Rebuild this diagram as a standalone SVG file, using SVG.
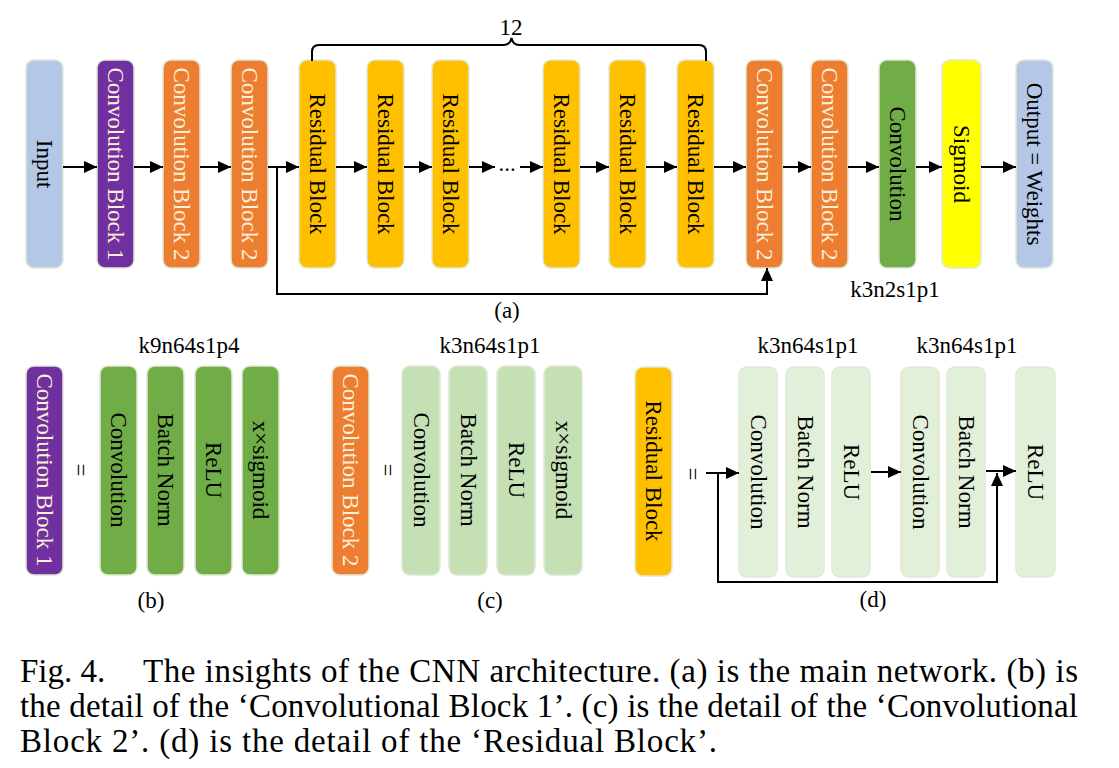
<svg xmlns="http://www.w3.org/2000/svg" width="1119" height="768" viewBox="0 0 1119 768">
<style>
.box{stroke:#dfe9d6;stroke-width:1.5}
.lbl{font-family:"Liberation Serif","Times New Roman",serif;font-size:23px;text-anchor:middle;dominant-baseline:central}
.t{font-family:"Liberation Serif","Times New Roman",serif;font-size:23px;text-anchor:middle;fill:#000}
.cap{font-family:"Liberation Serif","Times New Roman",serif;font-size:33px;fill:#000}
.w{fill:#fdf0d8}
.k{fill:#000}
.blue{fill:#b4c7e7}.purple{fill:#7030a0}.orange{fill:#ed7d31}.gold{fill:#ffc000}
.green{fill:#70ad47}.yellow{fill:#ffff00}.lg{fill:#c5e0b4}.llg{fill:#e2f0d9}
.conn{fill:none;stroke:#000;stroke-width:2}
</style>
<defs>
<marker id="ah" markerUnits="userSpaceOnUse" markerWidth="13" markerHeight="12" refX="13" refY="6" orient="auto">
<path d="M0,0 L13,6 L0,12 z" fill="#000"/>
</marker>
</defs>
<rect width="1119" height="768" fill="#fff"/>

<!-- (a) top row -->
<g id="a-input"><rect class="box blue" x="26" y="60" width="37" height="208" rx="8"/><text class="lbl k" transform="translate(44.5,164) rotate(90)">Input</text></g>
<g id="a-cb1"><rect class="box purple" x="97" y="60" width="37" height="208" rx="8"/><text class="lbl w" transform="translate(115.5,164) rotate(90)">Convolution Block 1</text></g>
<g id="a-cb2a"><rect class="box orange" x="163" y="60" width="37" height="208" rx="8"/><text class="lbl w" transform="translate(181.5,164) rotate(90)">Convolution Block 2</text></g>
<g id="a-cb2b"><rect class="box orange" x="231" y="60" width="37" height="208" rx="8"/><text class="lbl w" transform="translate(249.5,164) rotate(90)">Convolution Block 2</text></g>
<g id="a-r1"><rect class="box gold" x="299" y="60" width="37" height="208" rx="8"/><text class="lbl k" transform="translate(317.5,164) rotate(90)">Residual Block</text></g>
<g id="a-r2"><rect class="box gold" x="367" y="60" width="37" height="208" rx="8"/><text class="lbl k" transform="translate(385.5,164) rotate(90)">Residual Block</text></g>
<g id="a-r3"><rect class="box gold" x="432" y="60" width="37" height="208" rx="8"/><text class="lbl k" transform="translate(450.5,164) rotate(90)">Residual Block</text></g>
<g id="a-r4"><rect class="box gold" x="543" y="60" width="37" height="208" rx="8"/><text class="lbl k" transform="translate(561.5,164) rotate(90)">Residual Block</text></g>
<g id="a-r5"><rect class="box gold" x="609" y="60" width="37" height="208" rx="8"/><text class="lbl k" transform="translate(627.5,164) rotate(90)">Residual Block</text></g>
<g id="a-r6"><rect class="box gold" x="677" y="60" width="37" height="208" rx="8"/><text class="lbl k" transform="translate(695.5,164) rotate(90)">Residual Block</text></g>
<g id="a-cb2c"><rect class="box orange" x="746" y="60" width="37" height="208" rx="8"/><text class="lbl w" transform="translate(764.5,164) rotate(90)">Convolution Block 2</text></g>
<g id="a-cb2d"><rect class="box orange" x="811" y="60" width="37" height="208" rx="8"/><text class="lbl w" transform="translate(829.5,164) rotate(90)">Convolution Block 2</text></g>
<g id="a-conv"><rect class="box green" x="879" y="60" width="37" height="208" rx="8"/><text class="lbl k" transform="translate(897.5,164) rotate(90)">Convolution</text></g>
<g id="a-sig"><rect class="box yellow" x="942" y="60" width="39" height="208" rx="8"/><text class="lbl k" transform="translate(961.5,164) rotate(90)">Sigmoid</text></g>
<g id="a-out"><rect class="box blue" x="1016" y="60" width="37" height="208" rx="8"/><text class="lbl k" transform="translate(1034.5,164) rotate(90)">Output = Weights</text></g>

<g id="a-labels">
<text class="t" x="511" y="35">12</text>
<text class="t" x="507" y="318">(a)</text>
<text class="t" x="895" y="297">k3n2s1p1</text>
<text class="t" x="507" y="171">...</text>
</g>

<!-- (b) -->
<g id="b-cb1"><rect class="box purple" x="26" y="366" width="37" height="209" rx="8"/><text class="lbl w" transform="translate(44.5,470) rotate(90)">Convolution Block 1</text></g>
<g id="b-eq"><text class="lbl k" transform="translate(80,470) rotate(90)">=</text></g>
<g id="b-conv"><rect class="box green" x="100" y="366" width="37" height="209" rx="8"/><text class="lbl k" transform="translate(118.5,470) rotate(90)">Convolution</text></g>
<g id="b-bn"><rect class="box green" x="147" y="366" width="37" height="209" rx="8"/><text class="lbl k" transform="translate(165.5,470) rotate(90)">Batch Norm</text></g>
<g id="b-relu"><rect class="box green" x="195" y="366" width="37" height="209" rx="8"/><text class="lbl k" transform="translate(213.5,470) rotate(90)">ReLU</text></g>
<g id="b-xs"><rect class="box green" x="242" y="366" width="37" height="209" rx="8"/><text class="lbl k" transform="translate(260.5,470) rotate(90)">x×sigmoid</text></g>
<g id="b-labels"><text class="t" x="189" y="353">k9n64s1p4</text><text class="t" x="151" y="608">(b)</text></g>

<!-- (c) -->
<g id="c-cb2"><rect class="box orange" x="332" y="366" width="37" height="209" rx="8"/><text class="lbl w" transform="translate(350.5,470) rotate(90)">Convolution Block 2</text></g>
<g id="c-eq"><text class="lbl k" transform="translate(387,470) rotate(90)">=</text></g>
<g id="c-conv"><rect class="box lg" x="402" y="366" width="38" height="209" rx="8"/><text class="lbl k" transform="translate(421,470) rotate(90)">Convolution</text></g>
<g id="c-bn"><rect class="box lg" x="449" y="366" width="38" height="209" rx="8"/><text class="lbl k" transform="translate(468,470) rotate(90)">Batch Norm</text></g>
<g id="c-relu"><rect class="box lg" x="497" y="366" width="38" height="209" rx="8"/><text class="lbl k" transform="translate(516,470) rotate(90)">ReLU</text></g>
<g id="c-xs"><rect class="box lg" x="544" y="366" width="38" height="209" rx="8"/><text class="lbl k" transform="translate(563,470) rotate(90)">x×sigmoid</text></g>
<g id="c-labels"><text class="t" x="490" y="353">k3n64s1p1</text><text class="t" x="490" y="608">(c)</text></g>

<!-- (d) -->
<g id="d-res"><rect class="box gold" x="635" y="367" width="37" height="209" rx="8"/><text class="lbl k" transform="translate(653.5,471) rotate(90)">Residual Block</text></g>
<g id="d-eq"><text class="lbl k" transform="translate(692,474) rotate(90)">=</text></g>
<g id="d-conv1"><rect class="box llg" x="739" y="367" width="38" height="210" rx="8"/><text class="lbl k" transform="translate(758,472) rotate(90)">Convolution</text></g>
<g id="d-bn1"><rect class="box llg" x="786" y="367" width="38" height="210" rx="8"/><text class="lbl k" transform="translate(805,472) rotate(90)">Batch Norm</text></g>
<g id="d-relu1"><rect class="box llg" x="832" y="367" width="38" height="210" rx="8"/><text class="lbl k" transform="translate(851,472) rotate(90)">ReLU</text></g>
<g id="d-conv2"><rect class="box llg" x="901" y="367" width="38" height="210" rx="8"/><text class="lbl k" transform="translate(920,472) rotate(90)">Convolution</text></g>
<g id="d-bn2"><rect class="box llg" x="947" y="367" width="38" height="210" rx="8"/><text class="lbl k" transform="translate(966,472) rotate(90)">Batch Norm</text></g>
<g id="d-relu2"><rect class="box llg" x="1016" y="367" width="39" height="210" rx="8"/><text class="lbl k" transform="translate(1035.5,472) rotate(90)">ReLU</text></g>
<g id="d-labels"><text class="t" x="808" y="353">k3n64s1p1</text><text class="t" x="967" y="353">k3n64s1p1</text><text class="t" x="873" y="607">(d)</text></g>

<!-- connectors -->
<g id="connectors">
<path class="conn" marker-end="url(#ah)" d="M63,167 H97"/>
<path class="conn" marker-end="url(#ah)" d="M134,167 H163"/>
<path class="conn" marker-end="url(#ah)" d="M200,167 H231"/>
<path class="conn" marker-end="url(#ah)" d="M268,167 H299"/>
<path class="conn" marker-end="url(#ah)" d="M336,167 H367"/>
<path class="conn" marker-end="url(#ah)" d="M404,167 H432"/>
<path class="conn" marker-end="url(#ah)" d="M469,167 H495"/>
<path class="conn" marker-end="url(#ah)" d="M520,167 H543"/>
<path class="conn" marker-end="url(#ah)" d="M580,167 H609"/>
<path class="conn" marker-end="url(#ah)" d="M646,167 H677"/>
<path class="conn" marker-end="url(#ah)" d="M714,167 H746"/>
<path class="conn" marker-end="url(#ah)" d="M783,167 H811"/>
<path class="conn" marker-end="url(#ah)" d="M848,167 H879"/>
<path class="conn" marker-end="url(#ah)" d="M916,167 H942"/>
<path class="conn" marker-end="url(#ah)" d="M981,167 H1016"/>
<path class="conn" marker-end="url(#ah)" d="M277,167 V294 H767 V268"/>
<path class="conn" d="M312,61 V52 Q312,45 319,45 H504 Q510,45 511.5,38 Q513,45 519,45 H699 Q706,45 706,52 V61"/>
<path class="conn" marker-end="url(#ah)" d="M706,473 H739"/>
<path class="conn" marker-end="url(#ah)" d="M718,473 V582 H997 V473"/>
<path class="conn" marker-end="url(#ah)" d="M871,472 H901"/>
<path class="conn" marker-end="url(#ah)" d="M986,471 H1016"/>
</g>

<g id="caption">
<text class="cap" x="20" y="682">Fig. 4.</text>
<text class="cap" x="143" y="682" textLength="935" lengthAdjust="spacing">The insights of the CNN architecture. (a) is the main network. (b) is</text>
<text class="cap" x="20" y="717" textLength="1058" lengthAdjust="spacing">the detail of the ‘Convolutional Block 1’. (c) is the detail of the ‘Convolutional</text>
<text class="cap" x="20" y="752" textLength="697" lengthAdjust="spacing">Block 2’. (d) is the detail of the ‘Residual Block’.</text>
</g>
</svg>
